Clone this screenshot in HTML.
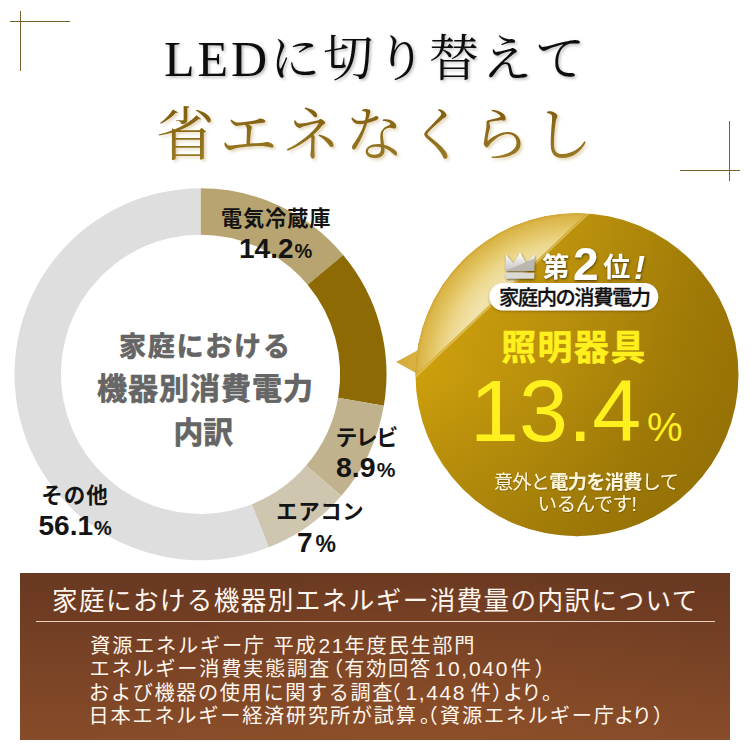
<!DOCTYPE html>
<html lang="ja">
<head>
<meta charset="utf-8">
<title>LEDに切り替えて省エネなくらし</title>
<style>
html,body{margin:0;padding:0;background:#fff}
body{width:750px;height:750px;overflow:hidden;font-family:"Liberation Sans",sans-serif}
svg{display:block}
defs path{vector-effect:non-scaling-stroke}
svg text{font-family:"Liberation Sans","Noto Sans CJK JP",sans-serif}
svg text.serif{font-family:"Liberation Serif","Noto Serif CJK SC",serif}
</style>
</head>
<body>
<svg width="750" height="750" viewBox="0 0 750 750">
<defs>
<linearGradient id="gtxt" gradientUnits="userSpaceOnUse" x1="0" y1="100" x2="0" y2="165"><stop offset="0" stop-color="#7d5b0a"/><stop offset="1" stop-color="#9c7c27"/></linearGradient>
<linearGradient id="gold" gradientUnits="userSpaceOnUse" x1="430" y1="330" x2="735" y2="420"><stop offset="0" stop-color="#cd9f0c"/><stop offset=".4" stop-color="#b88f0c"/><stop offset=".75" stop-color="#a07b07"/><stop offset="1" stop-color="#977205"/></linearGradient>
<linearGradient id="goldv" gradientUnits="userSpaceOnUse" x1="0" y1="380" x2="0" y2="536"><stop offset="0" stop-color="#8f6c06" stop-opacity="0"/><stop offset="1" stop-color="#8f6c06" stop-opacity=".45"/></linearGradient>
<radialGradient id="gloss" gradientUnits="userSpaceOnUse" cx="577" cy="374.7" r="161.5"><stop offset=".65" stop-color="#ecd990"/><stop offset=".73" stop-color="#f1e3ac"/><stop offset=".83" stop-color="#ecd78c"/><stop offset=".91" stop-color="#e3c564"/><stop offset=".98" stop-color="#dab548"/><stop offset="1" stop-color="#d2a636"/></radialGradient>
<linearGradient id="tail" gradientUnits="userSpaceOnUse" x1="396" y1="362" x2="420" y2="362"><stop offset="0" stop-color="#d4ac3a"/><stop offset="1" stop-color="#d9b244"/></linearGradient>
<linearGradient id="silver" x1="0" y1="0" x2="0" y2="1"><stop offset="0" stop-color="#ffffff"/><stop offset="1" stop-color="#c4c4c4"/></linearGradient>
<linearGradient id="brown" x1="0" y1="0" x2="0" y2="1"><stop offset="0" stop-color="#683821"/><stop offset="1" stop-color="#874c29"/></linearGradient>
<radialGradient id="brown2" gradientUnits="userSpaceOnUse" cx="420" cy="760" r="330" gradientTransform="translate(0 250) scale(1 .67)"><stop offset="0" stop-color="#9a5529" stop-opacity=".35"/><stop offset="1" stop-color="#9a5529" stop-opacity="0"/></radialGradient>
<clipPath id="bclip"><circle cx="577" cy="374.7" r="161.5"/></clipPath>
<filter id="sh1" x="-5%" y="-20%" width="110%" height="150%"><feDropShadow dx="1.6" dy="1.6" stdDeviation="1.4" flood-color="#000" flood-opacity=".28"/></filter>
<filter id="sh2" x="-5%" y="-20%" width="110%" height="150%"><feDropShadow dx="2" dy="2" stdDeviation="1.5" flood-color="#c9b27a" flood-opacity=".55"/></filter>
<filter id="sh3" x="-10%" y="-20%" width="120%" height="150%"><feDropShadow dx="0.6" dy="1.2" stdDeviation="1.3" flood-color="#2e2000" flood-opacity=".75"/></filter>
<filter id="sh4" x="-5%" y="-20%" width="110%" height="150%"><feDropShadow dx="0" dy="1" stdDeviation="1.2" flood-color="#4a3500" flood-opacity=".45"/></filter>
<filter id="sh5" x="-5%" y="-20%" width="110%" height="150%"><feDropShadow dx="0.6" dy="0.8" stdDeviation="0.6" flood-color="#3a2a00" flood-opacity=".45"/></filter>
</defs>
<g stroke="#75622a" stroke-width="1" fill="none" shape-rendering="crispEdges"><path d="M20.5 11V71M10 21.5H70"/><path d="M729.5 121V181M680 170.5H740"/></g>
<g fill="#0d0d0d" filter="url(#sh1)"><text class="serif" x="376" y="75.6" font-size="50" letter-spacing="3" text-anchor="middle">LEDに切り替えて</text></g>
<g fill="url(#gtxt)" filter="url(#sh2)"><text class="serif" x="377" y="155" font-size="58" letter-spacing="5" text-anchor="middle">省エネなくらし</text></g>
<g role="img" aria-label="家庭における機器別消費電力内訳"><path fill="#b8a470" d="M200.50 188.30A186 186 0 0 1 343.19 254.99L307.60 284.75A139.6 139.6 0 0 0 200.50 234.70Z"/><path fill="#8d6a04" d="M343.19 254.99A186 186 0 0 1 383.84 405.64L338.10 397.82A139.6 139.6 0 0 0 307.60 284.75Z"/><path fill="#bfb28c" d="M383.84 405.64A186 186 0 0 1 341.30 495.84L306.18 465.52A139.6 139.6 0 0 0 338.10 397.82Z"/><path fill="#cfc6b0" d="M341.30 495.84A186 186 0 0 1 268.67 547.36L251.66 504.19A139.6 139.6 0 0 0 306.18 465.52Z"/><path fill="#dedede" d="M268.67 547.36A186 186 0 1 1 200.50 188.30L200.50 234.70A139.6 139.6 0 1 0 251.66 504.19Z"/></g>
<g fill="#656565" stroke="#656565" stroke-width="0.7" stroke-linejoin="round"><text x="118.9" y="355.79" font-size="27" font-weight="bold" letter-spacing="1.8">家庭における</text></g>
<g fill="#656565" stroke="#656565" stroke-width="0.7" stroke-linejoin="round"><text x="97.1" y="399.3" font-size="30" font-weight="bold" letter-spacing="1">機器別消費電力</text></g>
<g fill="#656565" stroke="#656565" stroke-width="0.7" stroke-linejoin="round"><text x="173.4" y="442.8" font-size="29.8" font-weight="bold">内訳</text></g>
<g fill="#141414"><text x="220.9" y="225.7" font-size="21.2" font-weight="bold" letter-spacing="0.9">電気冷蔵庫</text></g>
<g fill="#141414"><text x="239" y="257.8" font-size="28" font-weight="bold">14.2<tspan font-size="20" dx="1">%</tspan></text></g>
<g fill="#141414"><text x="335.4" y="444.66" font-size="21.9" font-weight="bold" letter-spacing="-1.5">テレビ</text></g>
<g fill="#141414"><text x="336" y="476.6" font-size="28.5" font-weight="bold">8.9<tspan font-size="21" dx="1">%</tspan></text></g>
<g fill="#141414"><text x="276.3" y="519.34" font-size="21.4" font-weight="bold" letter-spacing="0.6">エアコン</text></g>
<g fill="#141414"><text x="297" y="551.6" font-size="28" font-weight="bold">7<tspan font-size="23" dx="3">%</tspan></text></g>
<g fill="#141414"><text x="41.3" y="503.09" font-size="21.5" font-weight="bold" letter-spacing="1">その他</text></g>
<g fill="#141414"><text x="38.5" y="535" font-size="28" font-weight="bold">56.1<tspan font-size="20" dx="1">%</tspan></text></g>
<g role="img" aria-label="第2位 照明器具 13.4%"><path fill="url(#tail)" d="M396 362L420 349L417.3 373.8Z"/><circle cx="577" cy="374.7" r="161.5" fill="url(#gold)"/><circle cx="577" cy="374.7" r="161.5" fill="url(#goldv)"/><g clip-path="url(#bclip)"><path fill="url(#gloss)" d="M644.9 158.4L359.1 428.2L109.1 178.2L394.9 -91.6Z"/><path d="M644.9 158.4L359.1 428.2" stroke="#ecd27c" stroke-width="1.8" opacity=".6" transform="translate(.9 .9)"/></g></g>
<g filter="url(#sh3)"><path fill="url(#silver)" d="M505.8 270.8V254.5L513.6 263.4L520 252.6L526.4 263.4L534.2 254.5V270.8Z"/><path fill="#b7b2aa" opacity=".85" d="M505.8 270.8L534.2 258.5V270.8Z"/><rect x="505.8" y="272.8" width="28.4" height="5.8" fill="#dcdad6"/></g>
<g fill="#ffffff" filter="url(#sh3)"><text y="277" font-weight="bold" font-size="27"><tspan x="542.2">第</tspan><tspan x="573" y="279.5" font-size="46">2</tspan><tspan x="603.2" y="277">位</tspan><tspan x="634" y="278.6" font-size="33" font-style="italic">!</tspan></text></g>
<rect x="489.3" y="283" width="169" height="27.5" rx="13.75" fill="#fff" filter="url(#sh4)"/>
<g fill="#111" stroke="#111" stroke-width="0.3" stroke-linejoin="round"><text x="499" y="305.06" font-size="20.3" font-weight="500" letter-spacing="-1.45">家庭内の消費電力</text></g>
<g fill="#fff01e" stroke="#fff01e" stroke-width="0.5" stroke-linejoin="round"><text x="501.2" y="359.88" font-size="34.8" font-weight="bold" letter-spacing="1.6">照明器具</text></g>
<g fill="#fff01e"><text x="470" y="441.2" font-size="88">13.4<tspan x="647" font-size="40">%</tspan></text></g>
<g fill="#fff6dc" filter="url(#sh5)"><text x="493.9" y="489.24" font-size="19.2" letter-spacing="-0.7">意外と<tspan font-weight="bold">電力を消費</tspan>して</text></g>
<g fill="#fff6dc" filter="url(#sh5)"><text x="537.6" y="511.38" font-size="19.7" letter-spacing="-0.7">いるんです!</text></g>
<rect x="20" y="573" width="710" height="167" fill="url(#brown)"/><rect x="20" y="573" width="710" height="167" fill="url(#brown2)"/><rect x="36" y="621" width="679" height="1" fill="#e9cfc0"/>
<g fill="#fff6ee"><text x="52" y="610.33" font-size="25.6" letter-spacing="1.38">家庭における機器別エネルギー消費量の内訳について</text></g>
<g fill="#fff6ee"><text y="653.3" font-size="20.2" letter-spacing="1.75"><tspan x="90.3">資源エネルギー庁</tspan><tspan x="273.6">平成</tspan><tspan x="318.4" font-size="21">21</tspan><tspan x="344.6">年度民生部門</tspan></text></g>
<g fill="#fff6ee"><text y="676.4" font-size="20.2" letter-spacing="1.75"><tspan x="89.5">エネルギー消費実態調査</tspan><tspan x="322.9">（</tspan><tspan x="344.2">有効回答</tspan><tspan x="434.5" font-size="21">10,040</tspan><tspan x="510.8">件</tspan><tspan x="534.4">）</tspan></text></g>
<g fill="#fff6ee"><text y="699.7" font-size="20.2" letter-spacing="1.6"><tspan x="89.1">および機器の使用に関する調査</tspan><tspan x="380.5">（</tspan><tspan x="405.5" font-size="21">1,448</tspan><tspan x="470.4">件</tspan><tspan x="492">）</tspan><tspan x="503.1" letter-spacing="-1.7">より</tspan><tspan x="542">。</tspan></text></g>
<g fill="#fff6ee"><text y="723.1" font-size="20.2" letter-spacing="1.75"><tspan x="88.6">日本エネルギー経済研究所が試算</tspan><tspan x="420">。</tspan><tspan x="417.5">（</tspan><tspan x="440.1">資源エネルギー庁</tspan><tspan x="613.9" letter-spacing="-1.8">より</tspan><tspan x="652.8">）</tspan></text></g>
</svg>
</body>
</html>
